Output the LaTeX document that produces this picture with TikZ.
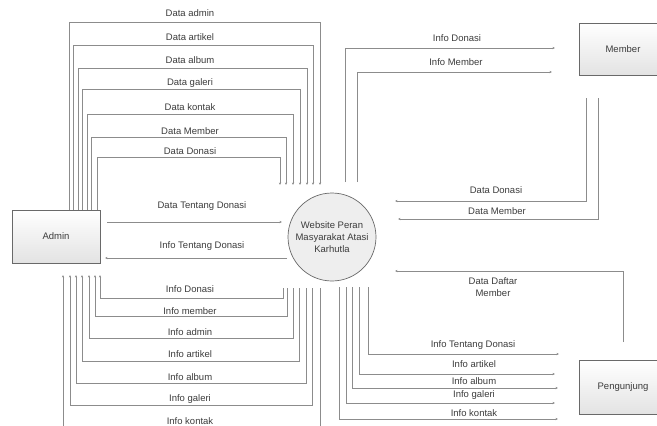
\documentclass[tikz,border=0pt]{standalone}
\usepackage{fontspec}
\setmainfont{Liberation Sans}
\usetikzlibrary{arrows.meta}
\definecolor{linegray}{RGB}{140,140,140}
\definecolor{boxgray}{RGB}{105,105,105}
\definecolor{txtgray}{RGB}{60,60,60}
\begin{document}
\begin{tikzpicture}[x=1pt,y=-1pt,
  flow/.style={draw=linegray, line width=0.8pt, -{Stealth[length=2.5pt,width=2.2pt]}},
  lbl/.style={text=txtgray, font=\fontsize{9.5}{12}\selectfont, inner sep=0pt, align=center},
  ent/.style={draw=boxgray, line width=0.7pt, top color=white, bottom color=gray!22,
    minimum width=88pt, minimum height=53pt, inner sep=0pt, text=txtgray,
    font=\fontsize{9.5}{12}\selectfont},
  proc/.style={circle, draw=boxgray, line width=0.7pt, fill=gray!13, minimum size=88pt,
    inner sep=0pt, align=center, text=txtgray, font=\fontsize{9.5}{12.3}\selectfont}]
\useasboundingbox (0,0) rectangle (657,426);
\clip (0,0) rectangle (657,426);

% entities and process
\node[ent] (admin) at (56,236.5) {Admin};
\node[ent, minimum height=52pt] (member) at (623,49) {Member};
\node[ent, minimum height=54pt] (peng) at (623,387) {Pengunjung};
\node[proc] (web) at (332,237) {Website Peran\\Masyarakat Atasi\\Karhutla};

% Admin -> process (top)
\draw[flow] (69,0 |- admin.north) |- (320,22) -- (320,185);
\draw[flow] (73,0 |- admin.north) |- (313,45) -- (313,185);
\draw[flow] (78,0 |- admin.north) |- (307,68) -- (307,185);
\draw[flow] (82,0 |- admin.north) |- (300,89) -- (300,185);
\draw[flow] (87,0 |- admin.north) |- (293,114) -- (293,185);
\draw[flow] (91,0 |- admin.north) |- (286,137) -- (286,185);
\draw[flow] (97,0 |- admin.north) |- (280,157) -- (280,185);
\node[lbl] (t1) at (190,13) {Data admin};
\node[lbl] (t2) at (190,37) {Data artikel};
\node[lbl] (t3) at (190,60) {Data album};
\node[lbl] (t4) at (190,83) {Data galeri};
\node[lbl] (t5) at (190,107) {Data kontak};
\node[lbl] (t6) at (190,131) {Data Member};
\node[lbl] (t7) at (190,151) {Data Donasi};

% horizontal flows
\draw[flow] (107,222) -- (282,222);
\node[lbl] (h1) at (202,206) {Data Tentang Donasi};
\draw[flow] (287,258) -- (105,258);
\node[lbl] (h2) at (202,246) {Info Tentang Donasi};

% process -> Admin (bottom)
\draw[flow] (283,288) |- (100,298) -- (100,275);
\draw[flow] (287,288) |- (95,316) -- (95,275);
\draw[flow] (293,288) |- (89,338) -- (89,275);
\draw[flow] (299,288) |- (82,361) -- (82,275);
\draw[flow] (306,288) |- (76,383) -- (76,275);
\draw[flow] (312,288) |- (70,405) -- (70,275);
\draw[flow] (320,288) |- (63,432) -- (63,275);
\node[lbl] (b1) at (190,289) {Info Donasi};
\node[lbl] (b2) at (190,311) {Info member};
\node[lbl] (b3) at (190,332) {Info admin};
\node[lbl] (b4) at (190,354) {Info artikel};
\node[lbl] (b5) at (190,377) {Info album};
\node[lbl] (b6) at (190,399) {Info galeri};
\node[lbl] (b7) at (190,421) {Info kontak};

% process -> Member
\draw[flow] (345,182) |- (555,48);
\draw[flow] (357,182) |- (552,72);
\node[lbl] (m1) at (457,38) {Info Donasi};
\node[lbl] (m2) at (456,62) {Info Member};

% Member -> process
\draw[flow] (586,98) |- (395,201);
\draw[flow] (598,98) |- (398,219);
\node[lbl] (m3) at (496,190) {Data Donasi};
\node[lbl] (m4) at (497,211) {Data Member};

% Pengunjung -> process
\draw[flow] (623,342) |- (395,271);
\node[lbl] (p0) at (493,287) {Data Daftar\\Member};

% process -> Pengunjung
\draw[flow] (368,287) |- (559,354);
\draw[flow] (359,287) |- (555,374);
\draw[flow] (352,287) |- (558,388);
\draw[flow] (346,287) |- (555,403);
\draw[flow] (339,287) |- (558,419);
\node[lbl] (p1) at (473,345) {Info Tentang Donasi};
\node[lbl] (p2) at (474,364) {Info artikel};
\node[lbl] (p3) at (474,381) {Info album};
\node[lbl] (p4) at (474,395) {Info galeri};
\node[lbl] (p5) at (474,413) {Info kontak};
\end{tikzpicture}
\end{document}
